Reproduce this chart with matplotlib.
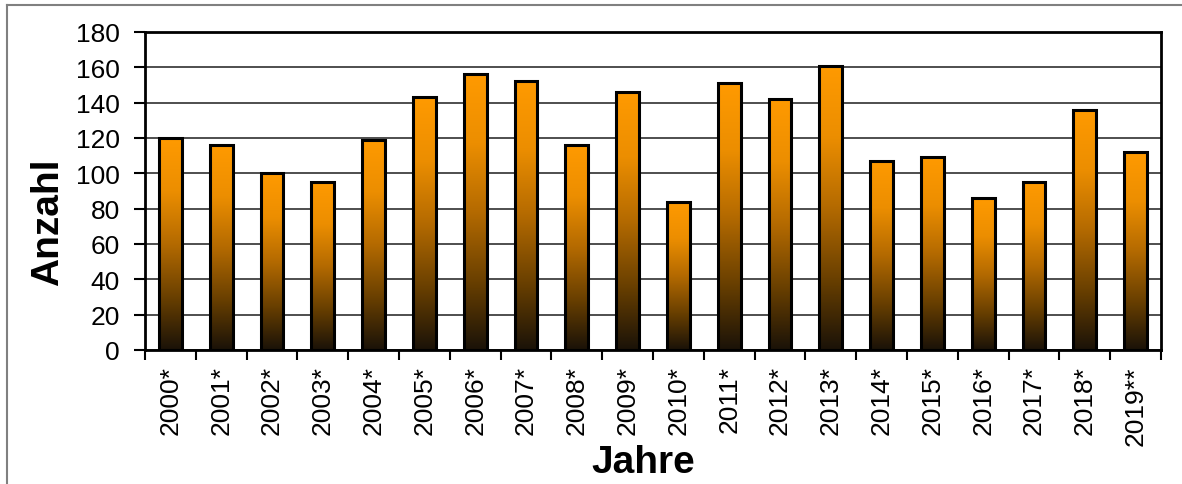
import matplotlib
import numpy as np
from matplotlib import pyplot as plt
from matplotlib.colors import LinearSegmentedColormap
from matplotlib.lines import Line2D

matplotlib.use('Agg')

plt.rcParams['font.family'] = ['Liberation Sans', 'DejaVu Sans']

# Anzahl je Jahr
jahre = ['2000*', '2001*', '2002*', '2003*', '2004*', '2005*', '2006*', '2007*', '2008*', '2009*',
         '2010*', '2011*', '2012*', '2013*', '2014*', '2015*', '2016*', '2017*', '2018*', '2019**']
anzahl = [120, 116, 100, 95, 119, 143, 156, 152, 116, 146,
          84, 151, 142, 161, 107, 109, 86, 95, 136, 112]
y_ticks = [0, 20, 40, 60, 80, 100, 120, 140, 160, 180]

# Verlauf von dunkel (unten) nach orange (oben)
verlauf = LinearSegmentedColormap.from_list(
    'verlauf', [(0.0, '#1a1208'), (0.25, '#6a4000'), (0.5, '#b46a00'),
                (0.75, '#ec8e00'), (1.0, '#ff9a00')])

fig = plt.figure(figsize=(11.82, 4.85), dpi=100)
ax = fig.add_axes([145 / 1182, 1 - 351 / 485, 1016 / 1182, 318 / 485])

x = np.arange(len(jahre))
bars = ax.bar(x, anzahl, width=0.45, facecolor='none', edgecolor='black', linewidth=2.2, zorder=3)

grad = np.linspace(0, 1, 256).reshape(-1, 1)
for bar in bars:
    x0, w, h = bar.get_x(), bar.get_width(), bar.get_height()
    im = ax.imshow(grad, extent=(x0, x0 + w, 0, h), origin='lower', aspect='auto',
                   cmap=verlauf, zorder=2, interpolation='bilinear')
    im.set_clip_path(bar)

ax.set_xlim(-0.5, len(jahre) - 0.5)
ax.set_ylim(0, 180)
ax.set_yticks(y_ticks)
ax.yaxis.grid(True, color='#303030', linewidth=1.2)
ax.set_axisbelow(True)

# Beschriftung mittig unter den Balken, Striche an den Kategoriegrenzen
ax.set_xticks(x)
ax.set_xticklabels(jahre, rotation=90, fontsize=19, va='top', ha='center')
ax.set_xticks(np.arange(len(jahre) + 1) - 0.5, minor=True)
ax.tick_params(axis='x', which='major', length=0, pad=11)
ax.tick_params(axis='x', which='minor', length=7, width=1.5, direction='out')
ax.tick_params(axis='y', labelsize=19, length=8, width=1.5, pad=10)

for spine in ax.spines.values():
    spine.set_linewidth(2.0)

fig.text(48 / 1182, 1 - 222 / 485, 'Anzahl', rotation=90, fontsize=28, fontweight='bold',
         ha='center', va='center')
fig.text(643 / 1182, 1 - 463 / 485, 'Jahre', fontsize=28, fontweight='bold',
         ha='center', va='center')

# Rahmen um das Diagramm
fig.add_artist(Line2D([7 / 1182, 1.0], [1 - 6 / 485, 1 - 6 / 485], color='#808080', linewidth=1.5))
fig.add_artist(Line2D([7 / 1182, 7 / 1182], [0.0, 1 - 6 / 485], color='#808080', linewidth=1.5))

fig.savefig('out.png', dpi=100)
plt.close(fig)
